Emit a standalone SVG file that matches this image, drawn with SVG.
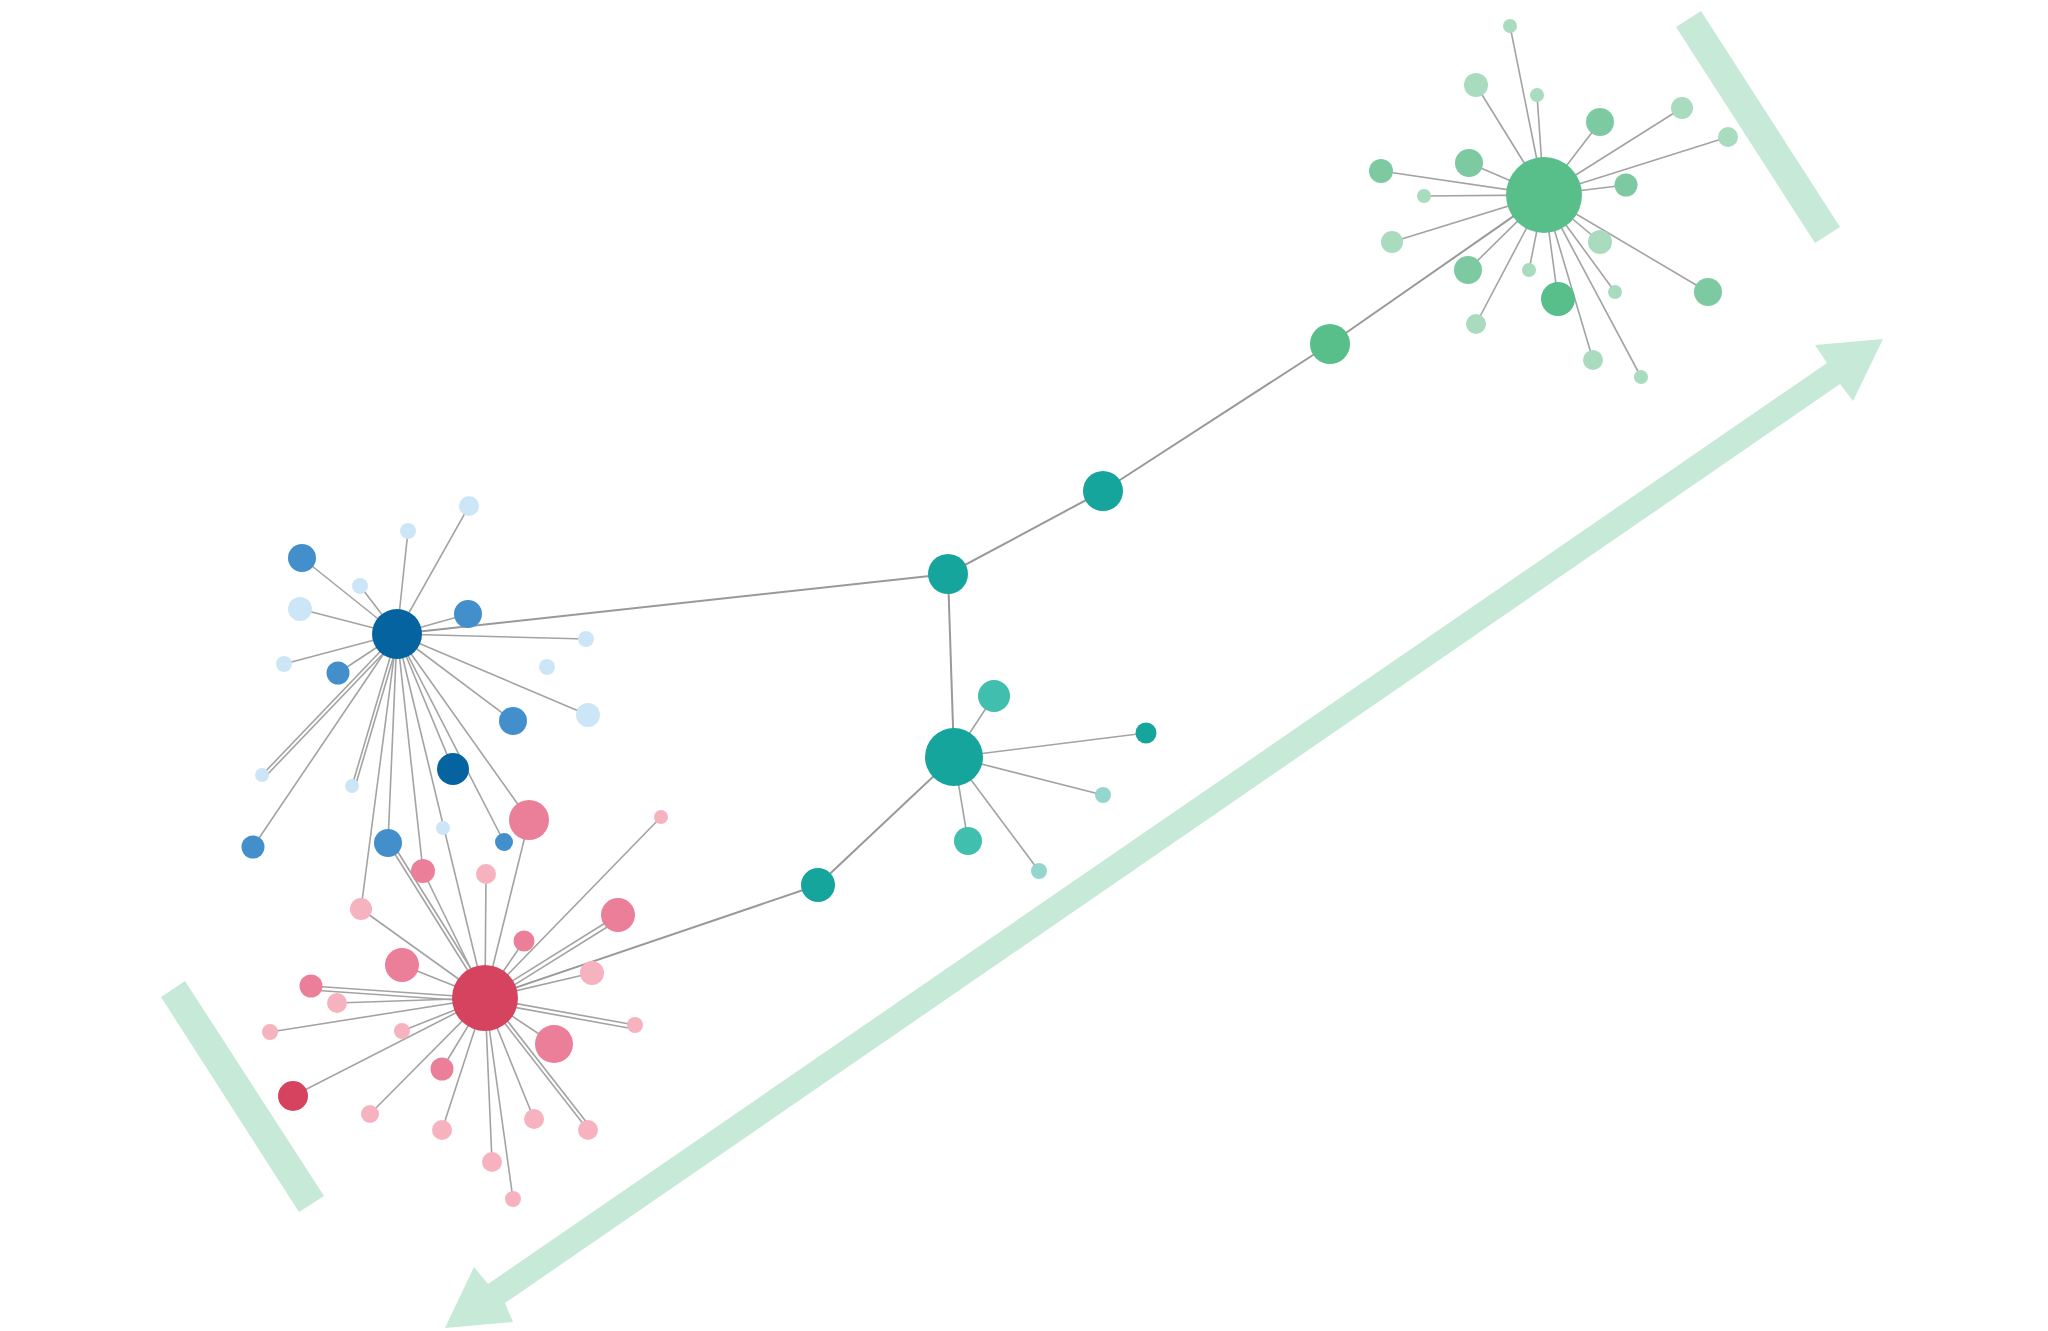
<svg xmlns="http://www.w3.org/2000/svg" width="2048" height="1331" viewBox="0 0 2048 1331">
<style>
.e{stroke:#a3a3a3;stroke-width:1.6;fill:none}
.m{stroke:#999;stroke-width:2;fill:none}
.deco{fill:#c6e9d8}
.bd{fill:#05649f}.bm{fill:#428fcc}.bl{fill:#cde6f7}
.rd{fill:#d6435e}.pk{fill:#eb7f9a}.lp{fill:#f7b2c0}
.td{fill:#16a59c}.tl{fill:#40bfae}.tp{fill:#94d6cd}
.gd{fill:#59bf8a}.gm{fill:#7dcaa2}.gl{fill:#a9dbbf}
</style>
<rect width="2048" height="1331" fill="#ffffff"/>
<g id="decorations">
<polygon class="deco" points="161,997 185,981 324,1196 299,1212"/>
<polygon class="deco" points="1676,27 1701,11 1840,227 1815,243"/>
<polygon class="deco" points="445,1328 474,1267 488,1284 1827,363 1815,345 1883,339 1853,401 1840,384 505,1303 513,1322"/>
</g>
<g id="connectors">
<line class="m" x1="397" y1="634" x2="948" y2="574"/>
<line class="m" x1="948" y1="574" x2="1103" y2="491"/>
<line class="m" x1="1103" y1="491" x2="1330" y2="344"/>
<line class="m" x1="1330" y1="344" x2="1544" y2="195"/>
<line class="m" x1="948" y1="574" x2="954" y2="757"/>
<line class="m" x1="954" y1="757" x2="818" y2="885"/>
<line class="m" x1="818" y1="885" x2="485" y2="998"/>
<line class="e" x1="954" y1="757" x2="994" y2="696"/>
<line class="e" x1="954" y1="757" x2="1146" y2="733"/>
<line class="e" x1="954" y1="757" x2="1103" y2="795"/>
<line class="e" x1="954" y1="757" x2="968" y2="841"/>
<line class="e" x1="954" y1="757" x2="1039" y2="871"/>
<line class="e" x1="1544" y1="195" x2="1510" y2="26"/>
<line class="e" x1="1544" y1="195" x2="1476" y2="85"/>
<line class="e" x1="1544" y1="195" x2="1537" y2="95"/>
<line class="e" x1="1544" y1="195" x2="1600" y2="122"/>
<line class="e" x1="1544" y1="195" x2="1682" y2="108"/>
<line class="e" x1="1544" y1="195" x2="1728" y2="137"/>
<line class="e" x1="1544" y1="195" x2="1469" y2="163"/>
<line class="e" x1="1544" y1="195" x2="1381" y2="171"/>
<line class="e" x1="1544" y1="195" x2="1424" y2="196"/>
<line class="e" x1="1544" y1="195" x2="1626" y2="185"/>
<line class="e" x1="1544" y1="195" x2="1392" y2="242"/>
<line class="e" x1="1544" y1="195" x2="1600" y2="242"/>
<line class="e" x1="1544" y1="195" x2="1468" y2="270"/>
<line class="e" x1="1544" y1="195" x2="1529" y2="270"/>
<line class="e" x1="1544" y1="195" x2="1558" y2="299"/>
<line class="e" x1="1544" y1="195" x2="1615" y2="292"/>
<line class="e" x1="1544" y1="195" x2="1708" y2="292"/>
<line class="e" x1="1544" y1="195" x2="1476" y2="324"/>
<line class="e" x1="1544" y1="195" x2="1593" y2="360"/>
<line class="e" x1="1544" y1="195" x2="1641" y2="377"/>
<line class="e" x1="397" y1="634" x2="469" y2="506"/>
<line class="e" x1="397" y1="634" x2="408" y2="531"/>
<line class="e" x1="397" y1="634" x2="302" y2="558"/>
<line class="e" x1="397" y1="634" x2="360" y2="586"/>
<line class="e" x1="397" y1="634" x2="300" y2="609"/>
<line class="e" x1="397" y1="634" x2="468" y2="614"/>
<line class="e" x1="397" y1="634" x2="586" y2="639"/>
<line class="e" x1="397" y1="634" x2="284" y2="664"/>
<line class="e" x1="397" y1="634" x2="338" y2="673"/>
<line class="e" x1="397" y1="634" x2="513" y2="721"/>
<line class="e" x1="397" y1="634" x2="588" y2="715"/>
<line class="e" x1="397" y1="634" x2="453" y2="769"/>
<line class="e" x1="397" y1="634" x2="262" y2="775"/>
<line class="e" x1="399" y1="637" x2="264" y2="778"/>
<line class="e" x1="397" y1="634" x2="352" y2="786"/>
<line class="e" x1="400" y1="635" x2="355" y2="787"/>
<line class="e" x1="397" y1="634" x2="253" y2="847"/>
<line class="e" x1="397" y1="634" x2="388" y2="843"/>
<line class="e" x1="397" y1="634" x2="504" y2="842"/>
<line class="e" x1="397" y1="634" x2="529" y2="820"/>
<line class="e" x1="397" y1="634" x2="361" y2="909"/>
<line class="e" x1="397" y1="634" x2="423" y2="871"/>
<line class="e" x1="397" y1="634" x2="485" y2="998"/>
<line class="e" x1="388" y1="843" x2="485" y2="998"/>
<line class="e" x1="391" y1="841" x2="488" y2="996"/>
<line class="e" x1="485" y1="998" x2="529" y2="820"/>
<line class="e" x1="485" y1="998" x2="661" y2="817"/>
<line class="e" x1="485" y1="998" x2="361" y2="909"/>
<line class="e" x1="485" y1="998" x2="423" y2="871"/>
<line class="e" x1="485" y1="998" x2="486" y2="874"/>
<line class="e" x1="485" y1="998" x2="524" y2="941"/>
<line class="e" x1="485" y1="998" x2="618" y2="915"/>
<line class="e" x1="487" y1="1002" x2="620" y2="919"/>
<line class="e" x1="485" y1="998" x2="592" y2="973"/>
<line class="e" x1="485" y1="998" x2="402" y2="965"/>
<line class="e" x1="485" y1="998" x2="311" y2="986"/>
<line class="e" x1="485" y1="1002" x2="311" y2="990"/>
<line class="e" x1="485" y1="998" x2="337" y2="1003"/>
<line class="e" x1="485" y1="998" x2="270" y2="1032"/>
<line class="e" x1="485" y1="998" x2="402" y2="1031"/>
<line class="e" x1="485" y1="998" x2="635" y2="1025"/>
<line class="e" x1="485" y1="1002" x2="634" y2="1029"/>
<line class="e" x1="485" y1="998" x2="554" y2="1044"/>
<line class="e" x1="485" y1="998" x2="293" y2="1096"/>
<line class="e" x1="485" y1="998" x2="442" y2="1069"/>
<line class="e" x1="485" y1="998" x2="370" y2="1114"/>
<line class="e" x1="485" y1="998" x2="442" y2="1130"/>
<line class="e" x1="485" y1="998" x2="534" y2="1119"/>
<line class="e" x1="485" y1="998" x2="588" y2="1130"/>
<line class="e" x1="488" y1="996" x2="591" y2="1128"/>
<line class="e" x1="485" y1="998" x2="492" y2="1162"/>
<line class="e" x1="485" y1="998" x2="513" y2="1199"/>
</g>
<g id="nodes">
<g id="b1"><circle class="bl" cx="469" cy="506" r="10"/></g>
<g id="b2"><circle class="bl" cx="408" cy="531" r="8"/></g>
<g id="b3"><circle class="bm" cx="302" cy="558" r="14"/></g>
<g id="b4"><circle class="bl" cx="360" cy="586" r="8"/></g>
<g id="b5"><circle class="bl" cx="300" cy="609" r="12"/></g>
<g id="b6"><circle class="bm" cx="468" cy="614" r="14"/></g>
<g id="b7"><circle class="bl" cx="586" cy="639" r="8"/></g>
<g id="b8"><circle class="bl" cx="284" cy="664" r="8"/></g>
<g id="b9"><circle class="bm" cx="338" cy="673" r="11.5"/></g>
<g id="b10"><circle class="bl" cx="547" cy="667" r="8"/></g>
<g id="b11"><circle class="bm" cx="513" cy="721" r="14"/></g>
<g id="b12"><circle class="bl" cx="588" cy="715" r="12"/></g>
<g id="b13"><circle class="bd" cx="453" cy="769" r="16"/></g>
<g id="b14"><circle class="bl" cx="262" cy="775" r="7"/></g>
<g id="b15"><circle class="bl" cx="352" cy="786" r="7"/></g>
<g id="b16"><circle class="bm" cx="253" cy="847" r="11.5"/></g>
<g id="b17"><circle class="bm" cx="388" cy="843" r="14"/></g>
<g id="b18"><circle class="bl" cx="443" cy="828" r="7"/></g>
<g id="b19"><circle class="bm" cx="504" cy="842" r="9"/></g>
<g id="blueHub"><circle class="bd" cx="397" cy="634" r="25"/></g>
<g id="p1"><circle class="pk" cx="529" cy="820" r="20"/></g>
<g id="p2"><circle class="lp" cx="661" cy="817" r="7"/></g>
<g id="p3"><circle class="lp" cx="361" cy="909" r="11"/></g>
<g id="p4"><circle class="pk" cx="423" cy="871" r="12"/></g>
<g id="p5"><circle class="lp" cx="486" cy="874" r="10"/></g>
<g id="p6"><circle class="pk" cx="524" cy="941" r="10.5"/></g>
<g id="p7"><circle class="pk" cx="618" cy="915" r="17"/></g>
<g id="p8"><circle class="lp" cx="592" cy="973" r="12"/></g>
<g id="p9"><circle class="pk" cx="402" cy="965" r="17"/></g>
<g id="p10"><circle class="pk" cx="311" cy="986" r="11.5"/></g>
<g id="p11"><circle class="lp" cx="337" cy="1003" r="10"/></g>
<g id="p12"><circle class="lp" cx="270" cy="1032" r="8"/></g>
<g id="p13"><circle class="lp" cx="402" cy="1031" r="8"/></g>
<g id="p14"><circle class="lp" cx="635" cy="1025" r="8"/></g>
<g id="p15"><circle class="pk" cx="554" cy="1044" r="19"/></g>
<g id="p16"><circle class="rd" cx="293" cy="1096" r="15"/></g>
<g id="p17"><circle class="pk" cx="442" cy="1069" r="11.5"/></g>
<g id="p18"><circle class="lp" cx="370" cy="1114" r="9"/></g>
<g id="p19"><circle class="lp" cx="442" cy="1130" r="10"/></g>
<g id="p20"><circle class="lp" cx="534" cy="1119" r="10"/></g>
<g id="p21"><circle class="lp" cx="588" cy="1130" r="10"/></g>
<g id="p22"><circle class="lp" cx="492" cy="1162" r="10"/></g>
<g id="p23"><circle class="lp" cx="513" cy="1199" r="8"/></g>
<g id="redHub"><circle class="rd" cx="485" cy="998" r="33"/></g>
<g id="tA"><circle class="td" cx="948" cy="574" r="20"/></g>
<g id="tB"><circle class="td" cx="1103" cy="491" r="20"/></g>
<g id="gC"><circle class="gd" cx="1330" cy="344" r="20"/></g>
<g id="tD"><circle class="td" cx="818" cy="885" r="17"/></g>
<g id="t1"><circle class="tl" cx="994" cy="696" r="16"/></g>
<g id="t2"><circle class="td" cx="1146" cy="733" r="10.5"/></g>
<g id="t3"><circle class="tp" cx="1103" cy="795" r="8"/></g>
<g id="t4"><circle class="tl" cx="968" cy="841" r="14"/></g>
<g id="t5"><circle class="tp" cx="1039" cy="871" r="8"/></g>
<g id="tealHub"><circle class="td" cx="954" cy="757" r="29"/></g>
<g id="g1"><circle class="gl" cx="1510" cy="26" r="7"/></g>
<g id="g2"><circle class="gl" cx="1476" cy="85" r="12"/></g>
<g id="g3"><circle class="gl" cx="1537" cy="95" r="7"/></g>
<g id="g4"><circle class="gm" cx="1600" cy="122" r="14"/></g>
<g id="g5"><circle class="gl" cx="1682" cy="108" r="11"/></g>
<g id="g6"><circle class="gl" cx="1728" cy="137" r="10"/></g>
<g id="g7"><circle class="gm" cx="1469" cy="163" r="14"/></g>
<g id="g8"><circle class="gm" cx="1381" cy="171" r="12"/></g>
<g id="g9"><circle class="gl" cx="1424" cy="196" r="7"/></g>
<g id="g10"><circle class="gm" cx="1626" cy="185" r="11.5"/></g>
<g id="g11"><circle class="gl" cx="1392" cy="242" r="11"/></g>
<g id="g12"><circle class="gl" cx="1600" cy="242" r="12"/></g>
<g id="g13"><circle class="gm" cx="1468" cy="270" r="14"/></g>
<g id="g14"><circle class="gl" cx="1529" cy="270" r="7"/></g>
<g id="g15"><circle class="gd" cx="1558" cy="299" r="17"/></g>
<g id="g16"><circle class="gl" cx="1615" cy="292" r="7"/></g>
<g id="g17"><circle class="gm" cx="1708" cy="292" r="14"/></g>
<g id="g18"><circle class="gl" cx="1476" cy="324" r="10"/></g>
<g id="g19"><circle class="gl" cx="1593" cy="360" r="10"/></g>
<g id="g20"><circle class="gl" cx="1641" cy="377" r="7"/></g>
<g id="greenHub"><circle class="gd" cx="1544" cy="195" r="38"/></g>
</g>
</svg>
